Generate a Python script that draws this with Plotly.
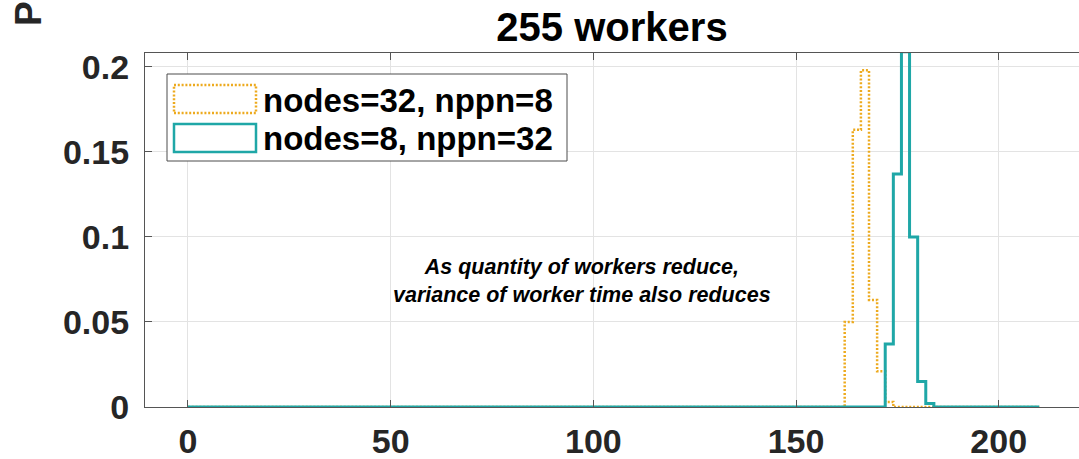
import plotly.graph_objects as go

# Histogram (PDF, bin width 2) of worker time for 255 workers
bin_edges = list(range(0, 212, 2))

# Non-empty bins: left edge -> PDF value
edges_32x8 = [162, 164, 166, 168, 170, 172]
pdf_32x8 = [0.050, 0.163, 0.198, 0.063, 0.021, 0.003]

edges_8x32 = [172, 174, 176, 178, 180, 182]
pdf_8x32 = [0.037, 0.137, 0.209, 0.100, 0.015, 0.002]

x_ticks = [0, 50, 100, 150, 200]
y_ticks = [0, 0.05, 0.1, 0.15, 0.2]
y_tick_text = ["0", "0.05", "0.1", "0.15", "0.2"]

label_32x8 = "nodes=32, nppn=8"
label_8x32 = "nodes=8, nppn=32"
title_text = "255 workers"
note_lines = ["As quantity of workers reduce,", "variance of worker time also reduces"]

ORANGE = "#EDAA1E"
TEAL = "#1FA7A7"
FONT = "Liberation Sans, Arial, sans-serif"


def stairs(left_edges, values):
    """Full-range stair outline (like a 'stairs' histogram) from sparse bins."""
    lookup = dict(zip(left_edges, values))
    heights = [lookup.get(e, 0.0) for e in bin_edges[:-1]]
    xs = list(bin_edges)
    ys = heights + [heights[-1]]
    return xs, ys


fig = go.Figure()

x1, y1 = stairs(edges_32x8, pdf_32x8)
fig.add_trace(go.Scatter(
    x=x1, y=y1, mode="lines", line_shape="hv", name=label_32x8,
    line=dict(color=ORANGE, width=2.5, dash="2px,1.8px"), showlegend=False,
))

x2, y2 = stairs(edges_8x32, pdf_8x32)
fig.add_trace(go.Scatter(
    x=x2, y=y2, mode="lines", line_shape="hv", name=label_8x32,
    line=dict(color=TEAL, width=3), showlegend=False,
))

# Plot-area geometry in pixels (used to place the hand-built legend)
W, H = 1079, 459
L, R, T, B = 145, 0, 53, 52
pw, ph = W - L - R, H - T - B


def px(x):
    return (x - L) / pw


def py(y):
    return (H - B - y) / ph


shapes = [
    # legend frame
    dict(type="rect", xref="paper", yref="paper",
         x0=px(167), x1=px(567), y0=py(161), y1=py(74),
         line=dict(color="#4d4d4d", width=1), fillcolor="white", layer="above"),
    # legend patches
    dict(type="rect", xref="paper", yref="paper",
         x0=px(174), x1=px(256), y0=py(113), y1=py(85),
         line=dict(color=ORANGE, width=2.5, dash="2px,1.8px"),
         fillcolor="white", layer="above"),
    dict(type="rect", xref="paper", yref="paper",
         x0=px(174), x1=px(256), y0=py(152), y1=py(124),
         line=dict(color=TEAL, width=2.5), fillcolor="white", layer="above"),
]

annotations = [
    dict(text=label_32x8, xref="paper", yref="paper", x=px(261), y=py(100),
         xanchor="left", yanchor="middle", showarrow=False,
         font=dict(family=FONT, size=33, color="black", weight="bold")),
    dict(text=label_8x32, xref="paper", yref="paper", x=px(261), y=py(138),
         xanchor="left", yanchor="middle", showarrow=False,
         font=dict(family=FONT, size=33, color="black", weight="bold")),
    dict(text="<br>".join(note_lines), xref="paper", yref="paper",
         x=px(582), y=py(280.5), xanchor="center", yanchor="middle",
         showarrow=False, align="center",
         font=dict(family=FONT, size=21.5, color="black", weight="bold",
                   style="italic")),
    dict(text="PDF", xref="paper", yref="paper", x=px(28), y=py(28),
         xanchor="center", yanchor="bottom", textangle=-90, showarrow=False,
         font=dict(family=FONT, size=37, color="#262626", weight="bold")),
]

fig.update_layout(
    width=W, height=H, autosize=False,
    margin=dict(l=L, r=R, t=T, b=B, pad=0),
    paper_bgcolor="white", plot_bgcolor="white",
    title=dict(text=title_text, xref="paper", x=0.5, xanchor="center",
               yref="container", y=1 - 27 / H, yanchor="middle",
               automargin=False,
               font=dict(family=FONT, size=40, color="black", weight="bold")),
    shapes=shapes, annotations=annotations,
)

fig.update_xaxes(
    range=[-10.6, 219.8], tickvals=x_ticks, ticks="inside", ticklen=7,
    tickcolor="#555555", showline=True, linecolor="#555555", linewidth=1.2,
    mirror="ticks", showgrid=True, gridcolor="#E3E3E3", gridwidth=1,
    zeroline=False, ticklabelstandoff=4, automargin=False,
    tickfont=dict(family=FONT, size=34, color="#262626", weight="bold"),
)
fig.update_yaxes(
    range=[0, 0.2082], tickvals=y_ticks, ticktext=y_tick_text,
    ticks="inside", ticklen=7, tickcolor="#555555", showline=True,
    linecolor="#555555", linewidth=1.2, showgrid=True, gridcolor="#E3E3E3",
    gridwidth=1, zeroline=False, ticklabelstandoff=8, automargin=False,
    tickfont=dict(family=FONT, size=34, color="#262626", weight="bold"),
)

fig.write_html("out.html")
